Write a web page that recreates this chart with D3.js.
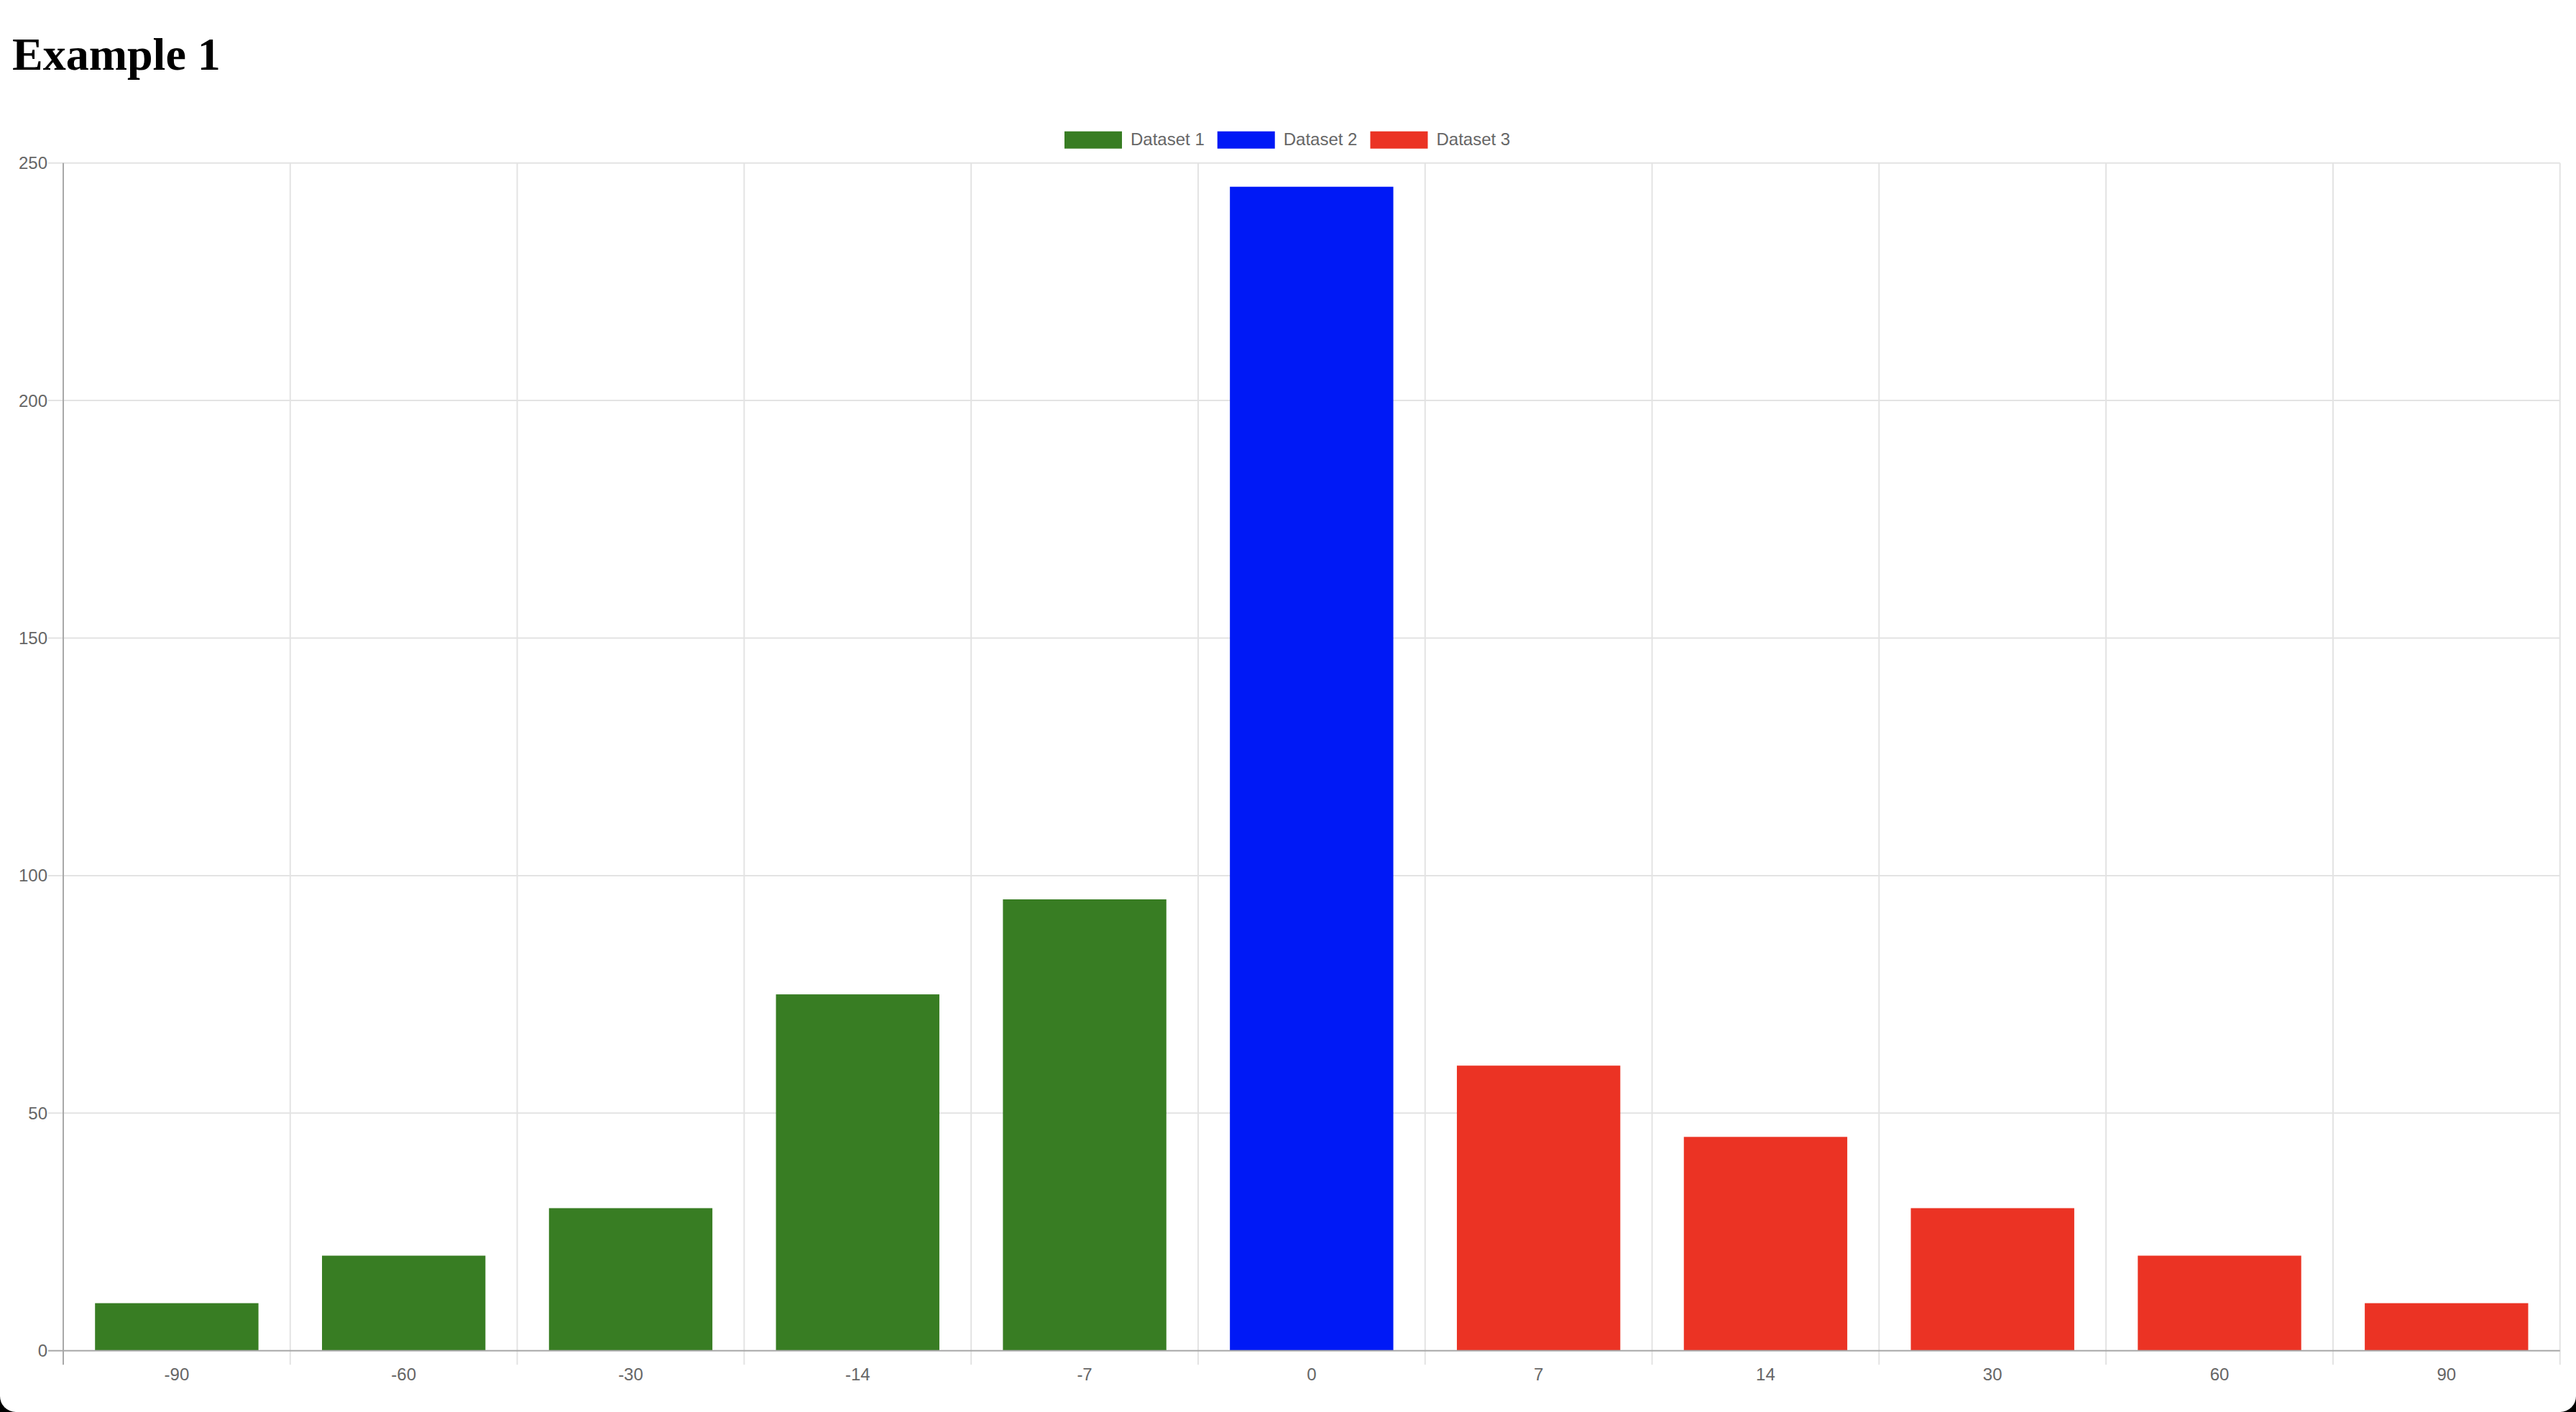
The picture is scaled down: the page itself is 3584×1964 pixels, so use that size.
<!DOCTYPE html>
<html>
<head>
<meta charset="utf-8">
<script src="https://cdn.jsdelivr.net/npm/d3@7"></script>
<style>
  html, body { margin: 0; padding: 0; background: #000; }
  svg { display: block; }
</style>
</head>
<body>
<svg id="chart" width="3584" height="1964"></svg>
<script>
const categories = ["-90", "-60", "-30", "-14", "-7", "0", "7", "14", "30", "60", "90"];
const seriesNames = ["Dataset 1", "Dataset 2", "Dataset 3"];
const seriesColors = ["#387d23", "#0019f6", "#eb3324"];
const dataset1 = [10, 20, 30, 75, 95, null, null, null, null, null, null];
const dataset2 = [null, null, null, null, null, 245, null, null, null, null, null];
const dataset3 = [null, null, null, null, null, null, 60, 45, 30, 20, 10];
const yTicks = [0, 50, 100, 150, 200, 250];

(function () {
const W = 3584, H = 1964;
const pLeft = 88, pRight = 3561.7, pTop = 226.7, pBottom = 1878.7;

const svg = d3.select("#chart");

// page background with rounded bottom corners (screenshot frame)
const r = 22;
svg.append("path")
  .attr("d", `M0,0 H${W} V${H - r} A${r},${r} 0 0 1 ${W - r},${H} H${r} A${r},${r} 0 0 1 0,${H - r} Z`)
  .attr("fill", "#fff");

// title
svg.append("text")
  .attr("x", 17).attr("y", 97)
  .attr("font-family", "'Liberation Serif', 'Times New Roman', serif")
  .attr("font-weight", "bold")
  .attr("font-size", 64)
  .attr("fill", "#000")
  .text("Example 1");

const x = d3.scaleBand().domain(categories).range([pLeft, pRight]).paddingInner(0).paddingOuter(0);
const y = d3.scaleLinear().domain([0, 250]).range([pBottom, pTop]);

const fontFam = "'Liberation Sans', Arial, Helvetica, sans-serif";

// vertical gridlines at category boundaries
const boundaries = categories.map(c => x(c)).concat([pRight]);
svg.append("g").selectAll("line").data(boundaries.slice(1)).join("line")
  .attr("x1", d => d).attr("x2", d => d)
  .attr("y1", pTop).attr("y2", pBottom + 19.5)
  .attr("stroke", "#e3e3e3").attr("stroke-width", 2);

// horizontal gridlines
svg.append("g").selectAll("line").data(yTicks.filter(t => t !== 0)).join("line")
  .attr("x1", pLeft - 21).attr("x2", pRight)
  .attr("y1", d => y(d)).attr("y2", d => y(d))
  .attr("stroke", "#e3e3e3").attr("stroke-width", 2);

// bars
const all = [dataset1, dataset2, dataset3];
const barW = x.bandwidth() * 0.72;
all.forEach((arr, si) => {
  svg.append("g").selectAll("rect")
    .data(categories.map((c, i) => ({ c, v: arr[i] })).filter(d => d.v != null))
    .join("rect")
    .attr("x", d => x(d.c) + (x.bandwidth() - barW) / 2)
    .attr("width", barW)
    .attr("y", d => y(d.v))
    .attr("height", d => y(0) - y(d.v))
    .attr("fill", seriesColors[si]);
});

// axes lines
svg.append("line")
  .attr("x1", pLeft).attr("x2", pLeft).attr("y1", pTop).attr("y2", pBottom + 19.5)
  .attr("stroke", "#a8a8a8").attr("stroke-width", 2);
svg.append("line")
  .attr("x1", pLeft - 21).attr("x2", pRight).attr("y1", pBottom).attr("y2", pBottom)
  .attr("stroke", "#a8a8a8").attr("stroke-width", 2);

// y tick labels
svg.append("g").selectAll("text").data(yTicks).join("text")
  .attr("x", 66).attr("y", d => y(d))
  .attr("dy", "0.35em")
  .attr("text-anchor", "end")
  .attr("font-family", fontFam).attr("font-size", 24)
  .attr("fill", "#666")
  .text(d => d);

// x tick labels
svg.append("g").selectAll("text").data(categories).join("text")
  .attr("x", d => x(d) + x.bandwidth() / 2).attr("y", 1920)
  .attr("text-anchor", "middle")
  .attr("font-family", fontFam).attr("font-size", 24)
  .attr("fill", "#666")
  .text(d => d);

// legend: items laid out left to right
const boxW = 80, boxH = 24, textGap = 12, itemGap = 18;
const legendG = svg.append("g");
const items = legendG.selectAll("g").data(seriesNames).join("g");
items.append("rect").attr("x", 0).attr("y", 182.7).attr("width", boxW).attr("height", boxH)
  .attr("fill", (d, i) => seriesColors[i]);
items.append("text").attr("x", boxW + textGap).attr("y", 202)
  .attr("font-family", fontFam).attr("font-size", 24).attr("fill", "#666")
  .text(d => d);
let cx = 0;
const offsets = [];
items.each(function () {
  offsets.push(cx);
  const tw = d3.select(this).select("text").node().getComputedTextLength();
  cx += boxW + textGap + tw + itemGap;
});
const startX = 1481;
items.attr("transform", (d, i) => `translate(${startX + offsets[i]},0)`);
})();
</script>
</body>
</html>
